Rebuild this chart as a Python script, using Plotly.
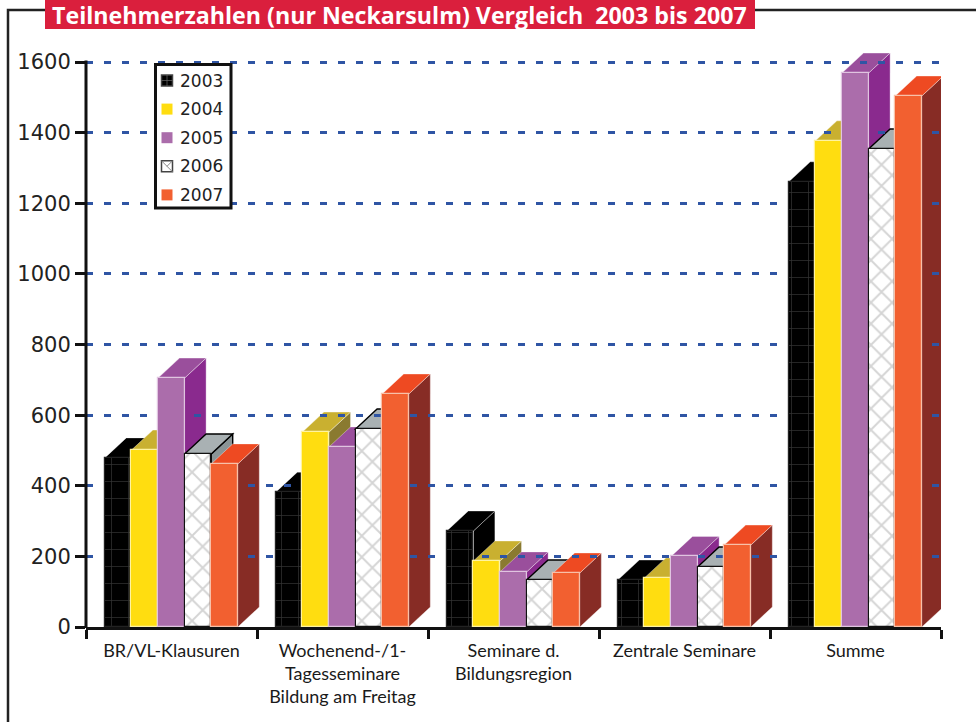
import plotly.graph_objects as go

categories = ["BR/VL-Klausuren", "Wochenend-/1-<br>Tagesseminare<br>Bildung am Freitag",
              "Seminare d.<br>Bildungsregion", "Zentrale Seminare", "Summe"]
years = ["2003", "2004", "2005", "2006", "2007"]
v2003 = [479, 382, 272, 133, 1261]
v2004 = [501, 552, 187, 139, 1377]
v2005 = [705, 510, 156, 200, 1569]
v2006 = [490, 561, 133, 170, 1354]
v2007 = [462, 660, 153, 232, 1504]
series = [v2003, v2004, v2005, v2006, v2007]
y_ticks = [0, 200, 400, 600, 800, 1000, 1200, 1400, 1600]

front = ["#000000", "#FFDD10", "#AB6DAB", "#FFFFFF", "#F26030"]
top = ["#000000", "#C9B030", "#9A4F9C", "#A9B1B3", "#EE4A22"]
side = ["#000000", "#8A7A30", "#8A2A8E", "#8A9496", "#872C25"]
edge = ["#222222", "#FFF3A0", "#E0C4E0", "#111111", "#F8C0A8"]
patterns = [
    dict(shape="+", fgcolor="#6a6a6a", bgcolor="#000000", size=17, solidity=0.08),
    None, None,
    dict(shape="x", fgcolor="#aaaaaa", bgcolor="#FFFFFF", size=15, solidity=0.24),
    None,
]

W, H = 976, 722
L, R, T, B = 86, 941, 48, 627
YMAX = 1640
px_x = (R - L) / 5
px_y = (B - T) / YMAX
bar_w = 26.6 / px_x
start = 18.8 / px_x
dx = 21.5 / px_x
dy = 20 / px_y


def px(x):
    return (x - L) / (R - L)


def py(y):
    return (B - y) / (B - T)


shapes = []
annotations = []
fig = go.Figure()
for i, vals in enumerate(series):
    xs = [c + start + bar_w * (i + 0.5) for c in range(5)]
    for x, v in zip(xs, vals):
        x0, x1 = x - bar_w / 2, x + bar_w / 2
        lc = "#000000" if i == 3 else "rgba(255,255,255,0.35)"
        lw = 1.4 if i == 3 else 1
        shapes.append(dict(type="path", xref="x", yref="y", layer="below",
                           path=f"M{x1},0 L{x1+dx},{dy} L{x1+dx},{v+dy} L{x1},{v} Z",
                           fillcolor=side[i], line=dict(color=lc, width=lw)))
        shapes.append(dict(type="path", xref="x", yref="y", layer="below",
                           path=f"M{x0},{v} L{x1},{v} L{x1+dx},{v+dy} L{x0+dx},{v+dy} Z",
                           fillcolor=top[i], line=dict(color=lc, width=lw)))
    marker = dict(color=front[i], line=dict(color=edge[i], width=1.2))
    if patterns[i]:
        marker["pattern"] = patterns[i]
    fig.add_trace(go.Bar(x=xs, y=vals, width=bar_w, name=years[i], marker=marker,
                         showlegend=False))

# y axis line, stopping at the top tick while the bars may rise above it
shapes.append(dict(type="line", xref="paper", yref="paper", layer="above",
                   x0=px(86), x1=px(86), y0=py(628), y1=py(60.5),
                   line=dict(color="#111111", width=3)))

# outer frame and title plate
shapes.append(dict(type="path", xref="paper", yref="paper", layer="below",
                   path=f"M{px(8)},{py(722)} L{px(8)},{py(10)} L{px(976)},{py(10)}",
                   line=dict(color="#222222", width=2.5)))
shapes.append(dict(type="rect", xref="paper", yref="paper", layer="above",
                   x0=px(45), x1=px(755), y0=py(0), y1=py(29),
                   fillcolor="#DA1F3D", line=dict(width=0)))

# legend box
shapes.append(dict(type="rect", xref="paper", yref="paper", layer="above",
                   x0=px(155.5), x1=px(231), y0=py(64.5), y1=py(208),
                   fillcolor="white", line=dict(color="#111111", width=3)))
for i, yr in enumerate(years):
    cy = 80.5 + 28.6 * i
    is_pat = patterns[i] is not None
    shapes.append(dict(type="rect", xref="paper", yref="paper", layer="above",
                       x0=px(161.5), x1=px(172.5), y0=py(cy - 5.5), y1=py(cy + 5.5),
                       fillcolor=front[i],
                       line=dict(color="#444444" if is_pat else front[i], width=1.5 if is_pat else 0)))
    annotations.append(dict(text=yr, xref="paper", yref="paper", showarrow=False,
                            x=px(178), y=py(cy), xanchor="left", yanchor="middle",
                            font=dict(family="DejaVu Sans", size=17, color="#222222")))
# patterned swatch details
shapes.append(dict(type="path", xref="paper", yref="paper", layer="above",
                   path=f"M{px(161.5)},{py(80.5)} L{px(172.5)},{py(80.5)} M{px(167)},{py(75)} L{px(167)},{py(86)}",
                   line=dict(color="#6a6a6a", width=0.7)))
cy06 = 80.5 + 28.6 * 3
shapes.append(dict(type="path", xref="paper", yref="paper", layer="above",
                   path=f"M{px(161.5)},{py(cy06-5.5)} L{px(172.5)},{py(cy06+5.5)} M{px(167)},{py(cy06)} L{px(172.5)},{py(cy06-5.5)}",
                   line=dict(color="#888888", width=1)))

fig.update_layout(
    width=W, height=H, autosize=False,
    margin=dict(l=L, r=W - R, t=T, b=H - B),
    paper_bgcolor="white", plot_bgcolor="white",
    barmode="overlay", bargap=0, showlegend=False,
    title=dict(text="<b>Teilnehmerzahlen (nur Neckarsulm) Vergleich  2003 bis 2007</b>",
               x=52 / W, xanchor="left", y=1 - 15.5 / H, yanchor="middle",
               font=dict(family="Open Sans", size=23.2, color="white")),
    shapes=shapes,
    annotations=annotations,
    xaxis=dict(range=[0, 5], tickmode="array", tickvals=[c + 0.5 for c in range(5)],
               ticktext=categories, ticks="", showgrid=False, zeroline=False,
               showline=True, linecolor="#111111", linewidth=3, ticklabelstandoff=5,
               tickfont=dict(family="Lato", size=18, color="#1a1a1a"),
               minor=dict(tick0=0, dtick=1, ticks="outside", ticklen=9, tickwidth=3,
                          tickcolor="#111111", showgrid=False)),
    yaxis=dict(range=[0, YMAX], tickmode="array", tickvals=y_ticks, ticks="outside",
               ticklen=10, tickwidth=3, tickcolor="#111111", showline=False,
               zeroline=False, showgrid=True, gridcolor="#2F55A4", gridwidth=2.5,
               griddash="7px,11px",
               tickfont=dict(family="DejaVu Sans", size=21, color="#222222")),
)
fig.write_html("out.html", config={"displayModeBar": False},
               post_script="document.documentElement.style.margin='0';document.body.style.margin='0';")
